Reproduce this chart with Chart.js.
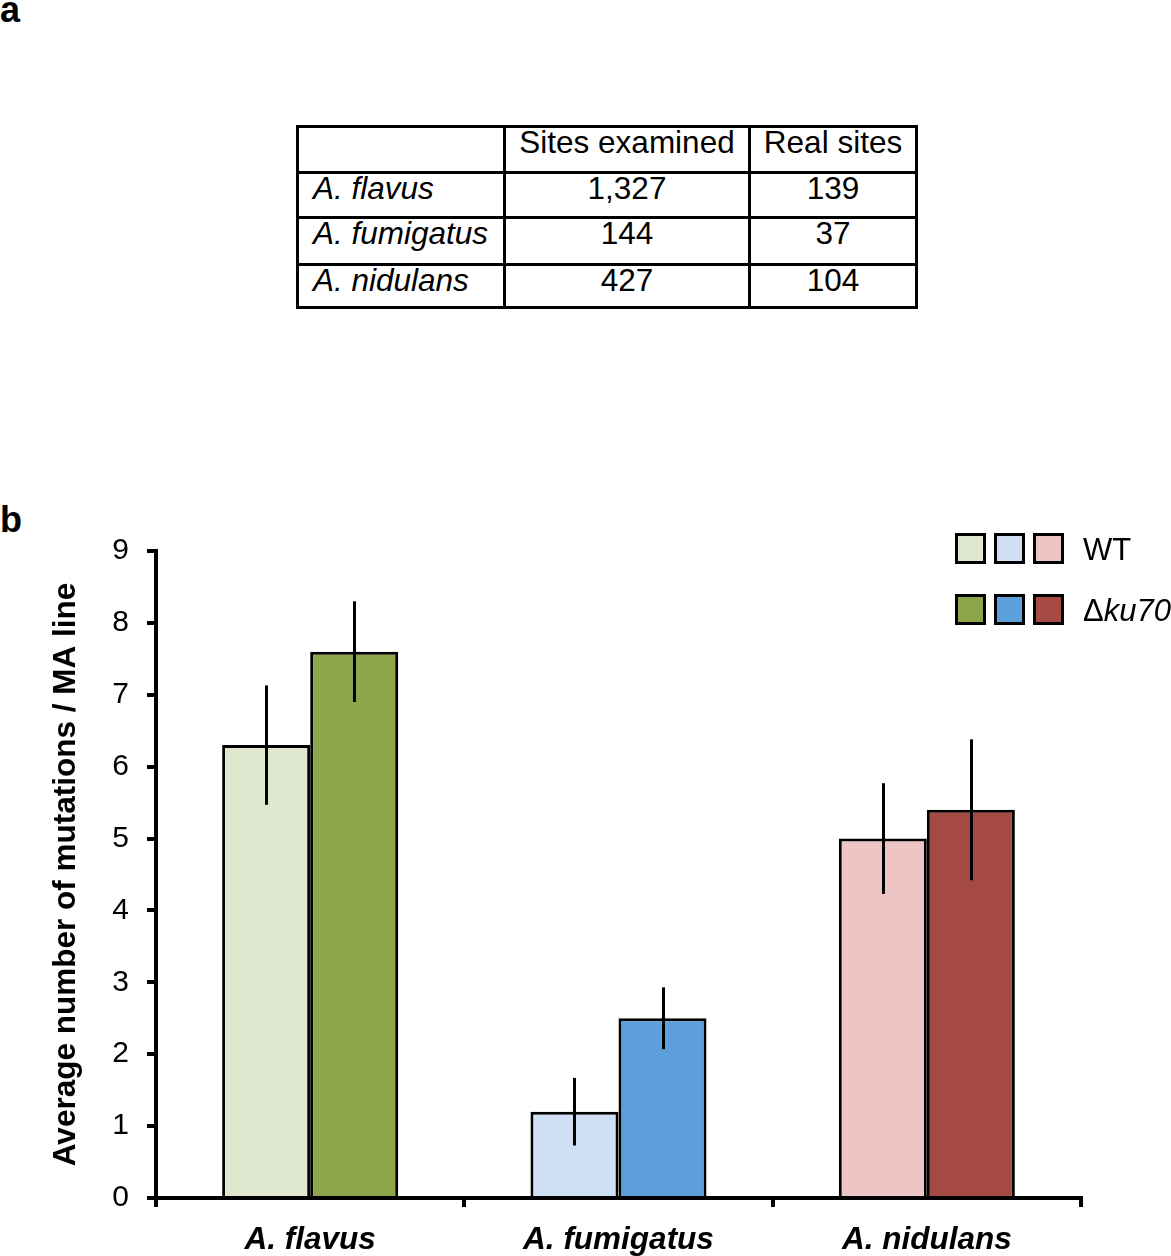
<!DOCTYPE html>
<html><head><meta charset="utf-8">
<script src="https://cdn.jsdelivr.net/npm/chart.js@4.4.1/dist/chart.umd.min.js"></script>
<style>
html,body{margin:0;padding:0;background:#fff;}
body{width:1171px;height:1256px;position:relative;overflow:hidden;font-family:"Liberation Sans",Arial,sans-serif;color:#000;}
.panel{position:absolute;left:0;font-weight:bold;font-size:36px;line-height:36px;}
#tbl{position:absolute;left:296px;top:125px;border-collapse:collapse;font-size:31.5px;line-height:32px;}
#tbl td{border:3px solid #000;padding:0;vertical-align:top;text-align:center;box-sizing:border-box;}
#tbl td span{position:relative;top:-2px;}
#tbl td.sp{text-align:left;padding-left:14px;font-style:italic;}
#chartBox{position:absolute;left:0;top:500px;width:1171px;height:756px;}
.sw{position:absolute;width:31px;height:31px;box-sizing:border-box;border:3px solid #000;}
.lt{position:absolute;left:1083px;font-size:31px;line-height:31px;}
</style></head>
<body>
<div class="panel" style="top:-8px">a</div>
<div class="panel" style="top:502px">b</div>
<table id="tbl"></table>
<div id="chartBox"><canvas id="c" width="1171" height="756"></canvas></div>
<div id="legend"></div>
<script>
// ---- table data ----
const tableHeaders = ['', 'Sites examined', 'Real sites'];
const tableSpecies = ['A. flavus', 'A. fumigatus', 'A. nidulans'];
const sitesExamined = ['1,327', '144', '427'];
const realSites = ['139', '37', '104'];

// ---- chart data ----
const species = ['A. flavus', 'A. fumigatus', 'A. nidulans'];
const wtValues = [6.3, 1.2, 5.0];
const ku70Values = [7.6, 2.5, 5.4];
const wtErrors = [0.83, 0.47, 0.77];
const ku70Errors = [0.70, 0.43, 0.98];
const wtColors = ['#dfe8cf', '#cfe0f5', '#ecc5c4'];
const ku70Colors = ['#8ca54a', '#5c9fdb', '#a54a42'];
const yTickValues = [0, 1, 2, 3, 4, 5, 6, 7, 8, 9];
const seriesLabels = ['WT', 'Δku70'];

// build table
const colW = [207, 245, 167];
const rowH = [46, 45, 47, 43];
const tbl = document.getElementById('tbl');
function addRow(cells, h, first) {
  const tr = document.createElement('tr');
  cells.forEach((t, i) => {
    const td = document.createElement('td');
    const sp = document.createElement('span');
    sp.textContent = t;
    td.appendChild(sp);
    td.style.width = colW[i] + 'px';
    td.style.height = h + 'px';
    if (i === 0 && !first) td.className = 'sp';
    tr.appendChild(td);
  });
  tbl.appendChild(tr);
}
addRow(tableHeaders, rowH[0], true);
tableSpecies.forEach((s, i) => addRow([s, sitesExamined[i], realSites[i]], rowH[i + 1], false));

// legend (HTML)
const leg = document.getElementById('legend');
const swX = [955, 994, 1033];
const rowsY = [533, 594];
[wtColors, ku70Colors].forEach((cols, r) => {
  cols.forEach((c, i) => {
    const d = document.createElement('div');
    d.className = 'sw';
    d.style.left = swX[i] + 'px';
    d.style.top = rowsY[r] + 'px';
    d.style.background = c;
    leg.appendChild(d);
  });
  const t = document.createElement('div');
  t.className = 'lt';
  t.style.top = (rowsY[r] + 1) + 'px';
  if (r === 0) t.textContent = seriesLabels[0];
  else t.innerHTML = 'Δ<i>ku70</i>';
  leg.appendChild(t);
});

const errorBars = {
  id: 'errorBars',
  afterDatasetsDraw(chart) {
    const ctx = chart.ctx;
    const ys = chart.scales.y;
    const errs = [wtErrors, ku70Errors];
    ctx.save();
    ctx.strokeStyle = '#000';
    ctx.lineWidth = 3;
    chart.data.datasets.forEach((ds, di) => {
      const meta = chart.getDatasetMeta(di);
      meta.data.forEach((bar, j) => {
        const v = ds.data[j], e = errs[di][j];
        const x = Math.round(bar.x) + 0.5;
        ctx.beginPath();
        ctx.moveTo(x, ys.getPixelForValue(v + e));
        ctx.lineTo(x, ys.getPixelForValue(v - e));
        ctx.stroke();
      });
    });
    ctx.restore();
  }
};

const FONT = '"Liberation Sans", Arial, sans-serif';
new Chart(document.getElementById('c'), {
  type: 'bar',
  data: {
    labels: species,
    datasets: [
      { label: seriesLabels[0], data: wtValues, backgroundColor: wtColors, borderColor: '#000', borderWidth: 3, borderSkipped: 'bottom', barPercentage: 1, categoryPercentage: 0.571 },
      { label: seriesLabels[1], data: ku70Values, backgroundColor: ku70Colors, borderColor: '#000', borderWidth: 3, borderSkipped: 'bottom', barPercentage: 1, categoryPercentage: 0.571 }
    ]
  },
  options: {
    responsive: false,
    animation: false,
    devicePixelRatio: 1,
    layout: { padding: { top: 51, right: 90, left: 0, bottom: 0 } },
    plugins: { legend: { display: false }, tooltip: { enabled: false } },
    scales: {
      x: {
        grid: { display: true, drawOnChartArea: false, drawTicks: true, tickLength: 9, color: '#000', lineWidth: 4, offset: true },
        border: { display: true, color: '#000', width: 4 },
        ticks: { font: { family: FONT, size: 31.5, weight: 'bold', style: 'italic' }, color: '#000', padding: 14, maxRotation: 0, autoSkip: false },
        afterFit: s => { s.height = 58; }
      },
      y: {
        min: 0, max: 9,
        afterBuildTicks: s => { s.ticks = yTickValues.map(v => ({ value: v })); },
        ticks: { font: { family: FONT, size: 30 }, color: '#000', padding: 18 },
        grid: { display: true, drawOnChartArea: false, drawTicks: true, tickLength: 9, color: '#000', lineWidth: 4 },
        border: { display: true, color: '#000', width: 4 },
        title: { display: true, text: 'Average number of mutations / MA line', font: { family: FONT, size: 31.5, weight: 'bold' }, color: '#000', padding: { top: 47, bottom: 0 } },
        afterFit: s => { s.width = 156; }
      }
    }
  },
  plugins: [errorBars]
});
</script>
</body></html>
